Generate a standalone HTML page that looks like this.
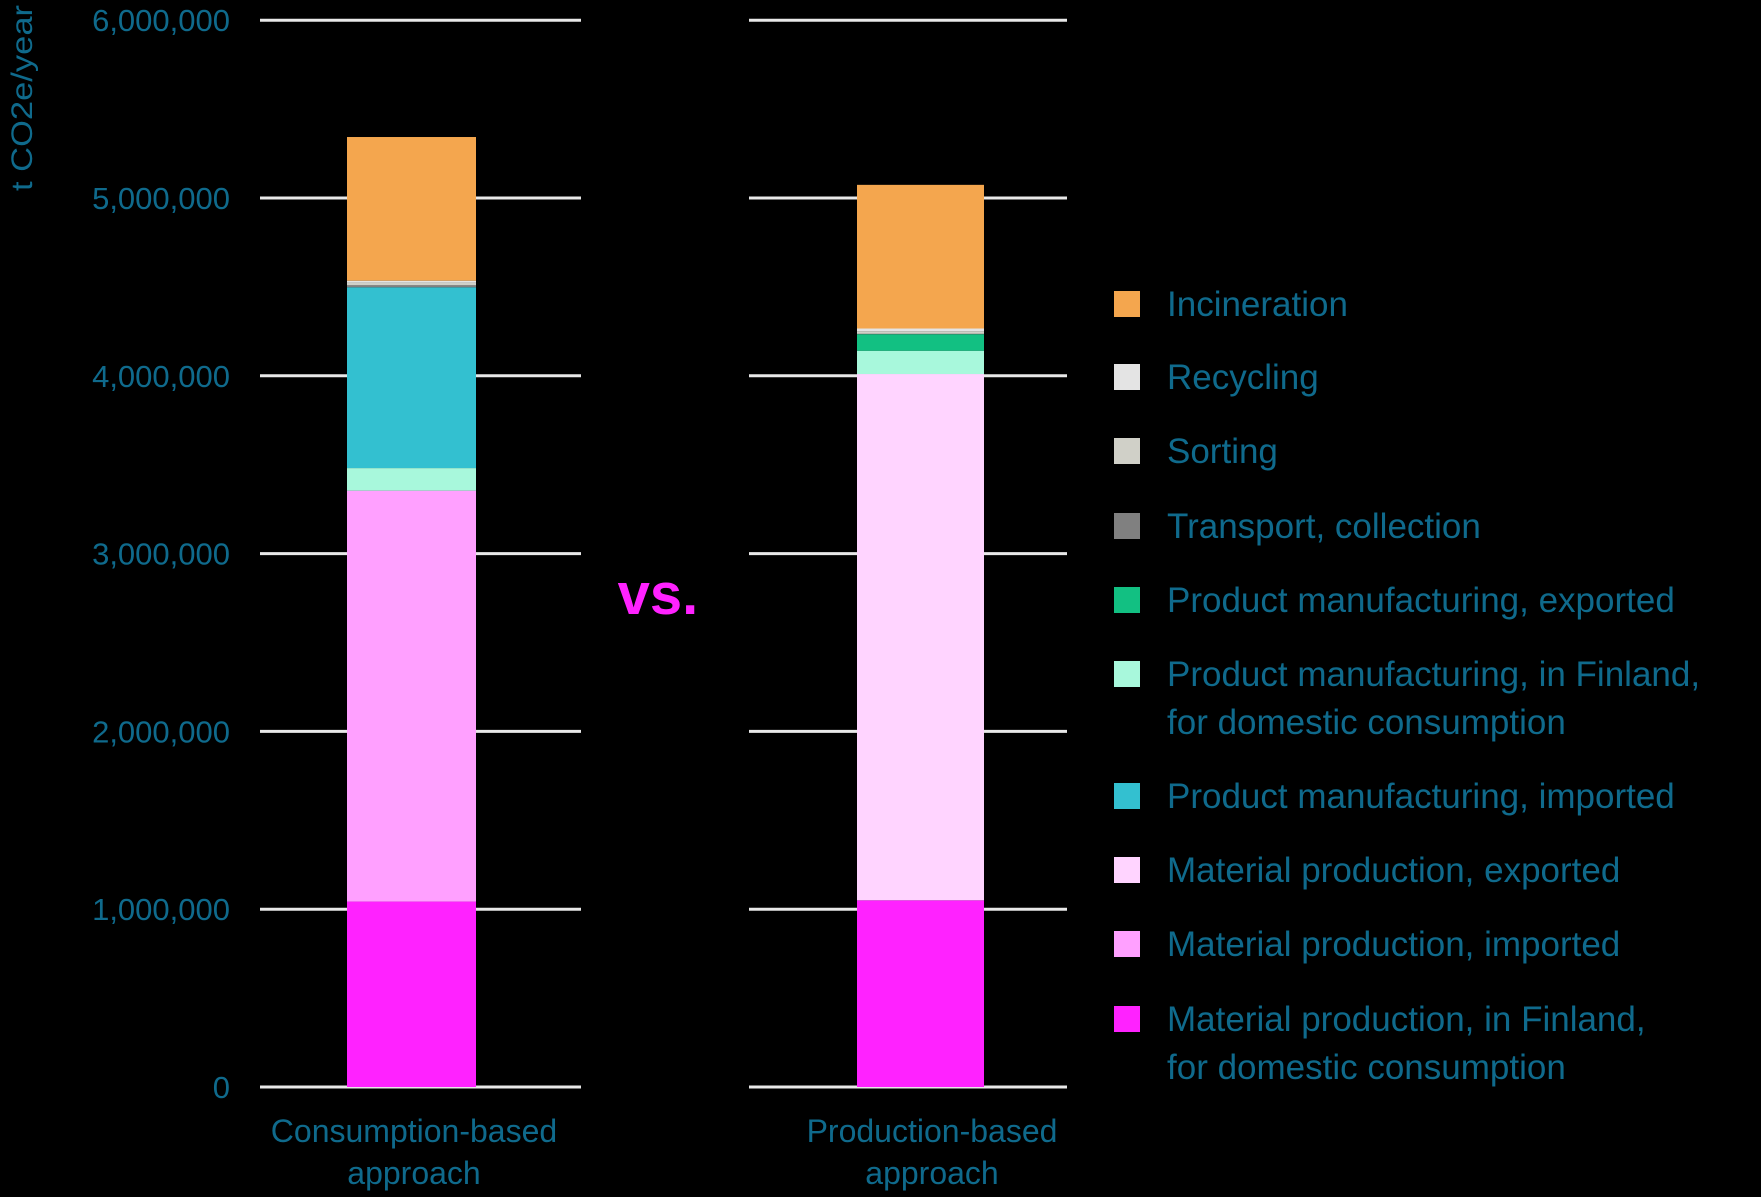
<!DOCTYPE html>
<html><head><meta charset="utf-8"><style>
html,body{margin:0;padding:0;background:#000;}
svg{display:block;font-family:"Liberation Sans",sans-serif;}
</style></head><body>
<svg id="chart" width="1761" height="1197" viewBox="0 0 1761 1197">
<rect width="1761" height="1197" fill="#000"/>
<g id="grid"></g>
<g id="bars"></g>
<g id="ticks"></g>
<text transform="translate(32,0) rotate(-90)" x="-98" y="0" text-anchor="middle" font-size="30" fill="#0f6a8c" textLength="186" lengthAdjust="spacingAndGlyphs">t CO2e/year</text>
<text x="658" y="614" text-anchor="middle" font-size="58" font-weight="bold" fill="#ff22ff">vs.</text>
<g id="cats"></g>
<g id="legend"></g>
</svg>
<script>
const categories = [["Consumption-based","approach"],["Production-based","approach"]];
const seriesNames = ["Material production, in Finland, for domestic consumption","Material production, imported","Material production, exported","Product manufacturing, in Finland, for domestic consumption","Product manufacturing, imported","Product manufacturing, exported","Transport, collection","Sorting","Recycling","Incineration"];
const seriesColors = ["#ff22ff","#ffa0ff","#ffd4ff","#a8f8dc","#33c0d0","#12c082","#808080","#d0d0c8","#e4e4e4","#f4a64e"];
const consumptionValues = [1043000,2311000,0,127000,1017000,0,11000,15000,11000,808000];
const productionValues = [1050000,0,2960000,131000,0,93000,2000,15000,15000,808000];
const yTicks = [0,1000000,2000000,3000000,4000000,5000000,6000000];
const yTickLabels = ["0","1,000,000","2,000,000","3,000,000","4,000,000","5,000,000","6,000,000"];
const legendOrder = [9,8,7,6,5,3,4,2,1,0];
const legendLabels = [["Incineration"],["Recycling"],["Sorting"],["Transport, collection"],["Product manufacturing, exported"],["Product manufacturing, in Finland,","for domestic consumption"],["Product manufacturing, imported"],["Material production, exported"],["Material production, imported"],["Material production, in Finland,","for domestic consumption"]];

const NS="http://www.w3.org/2000/svg";
const y0=1087, pxPerUnit=177.8/1000000;
function yScale(v){return y0 - v*pxPerUnit;}
const panels=[{gx1:260,gx2:581,bx:347,bw:129,cx:414},{gx1:749,gx2:1067,bx:857,bw:127,cx:932}];
const allValues=[consumptionValues,productionValues];
function mk(tag,attrs,parent){const e=document.createElementNS(NS,tag);for(const k in attrs)e.setAttribute(k,attrs[k]);parent.appendChild(e);return e;}
const grid=document.getElementById('grid'),bars=document.getElementById('bars'),ticks=document.getElementById('ticks'),cats=document.getElementById('cats'),legend=document.getElementById('legend');
yTicks.forEach((t,i)=>{
  panels.forEach((p,j)=>{
    const l=mk('line',{x1:p.gx1,x2:p.gx2,y1:yScale(t),y2:yScale(t),stroke:'#e8e8e8','stroke-width':3},grid);
    
    
  });
  const tx=mk('text',{x:230,y:yScale(t)+11,'text-anchor':'end','font-size':31,fill:'#0f6a8c'},ticks);
  tx.textContent=yTickLabels[i];
  
  
});
panels.forEach((p,j)=>{
  let cum=0;
  allValues[j].forEach((v,k)=>{
    if(v<=0)return;
    const r=mk('rect',{x:p.bx,width:p.bw,y:yScale(cum+v),height:v*pxPerUnit,fill:seriesColors[k]},bars);
    
    
    cum+=v;
  });
  categories[j].forEach((s,li)=>{
    const t=mk('text',{x:p.cx,y:1142+li*42,'text-anchor':'middle','font-size':32,fill:'#0f6a8c'},cats);
    t.textContent=s;
    
    
  });
});
const legendY=[304,377,451,526,600,674,796,870,944,1019];
legendOrder.forEach((k,i)=>{
  const y=legendY[i];
  const r=mk('rect',{x:1114,y:y-13,width:26,height:26,fill:seriesColors[k]},legend);
  
  
  legendLabels[i].forEach((s,li)=>{
    const t=mk('text',{x:1167,y:y+12+li*48,'font-size':35,fill:'#0f6a8c'},legend);
    t.textContent=s;
    
    
  });
});
</script>
</body></html>
